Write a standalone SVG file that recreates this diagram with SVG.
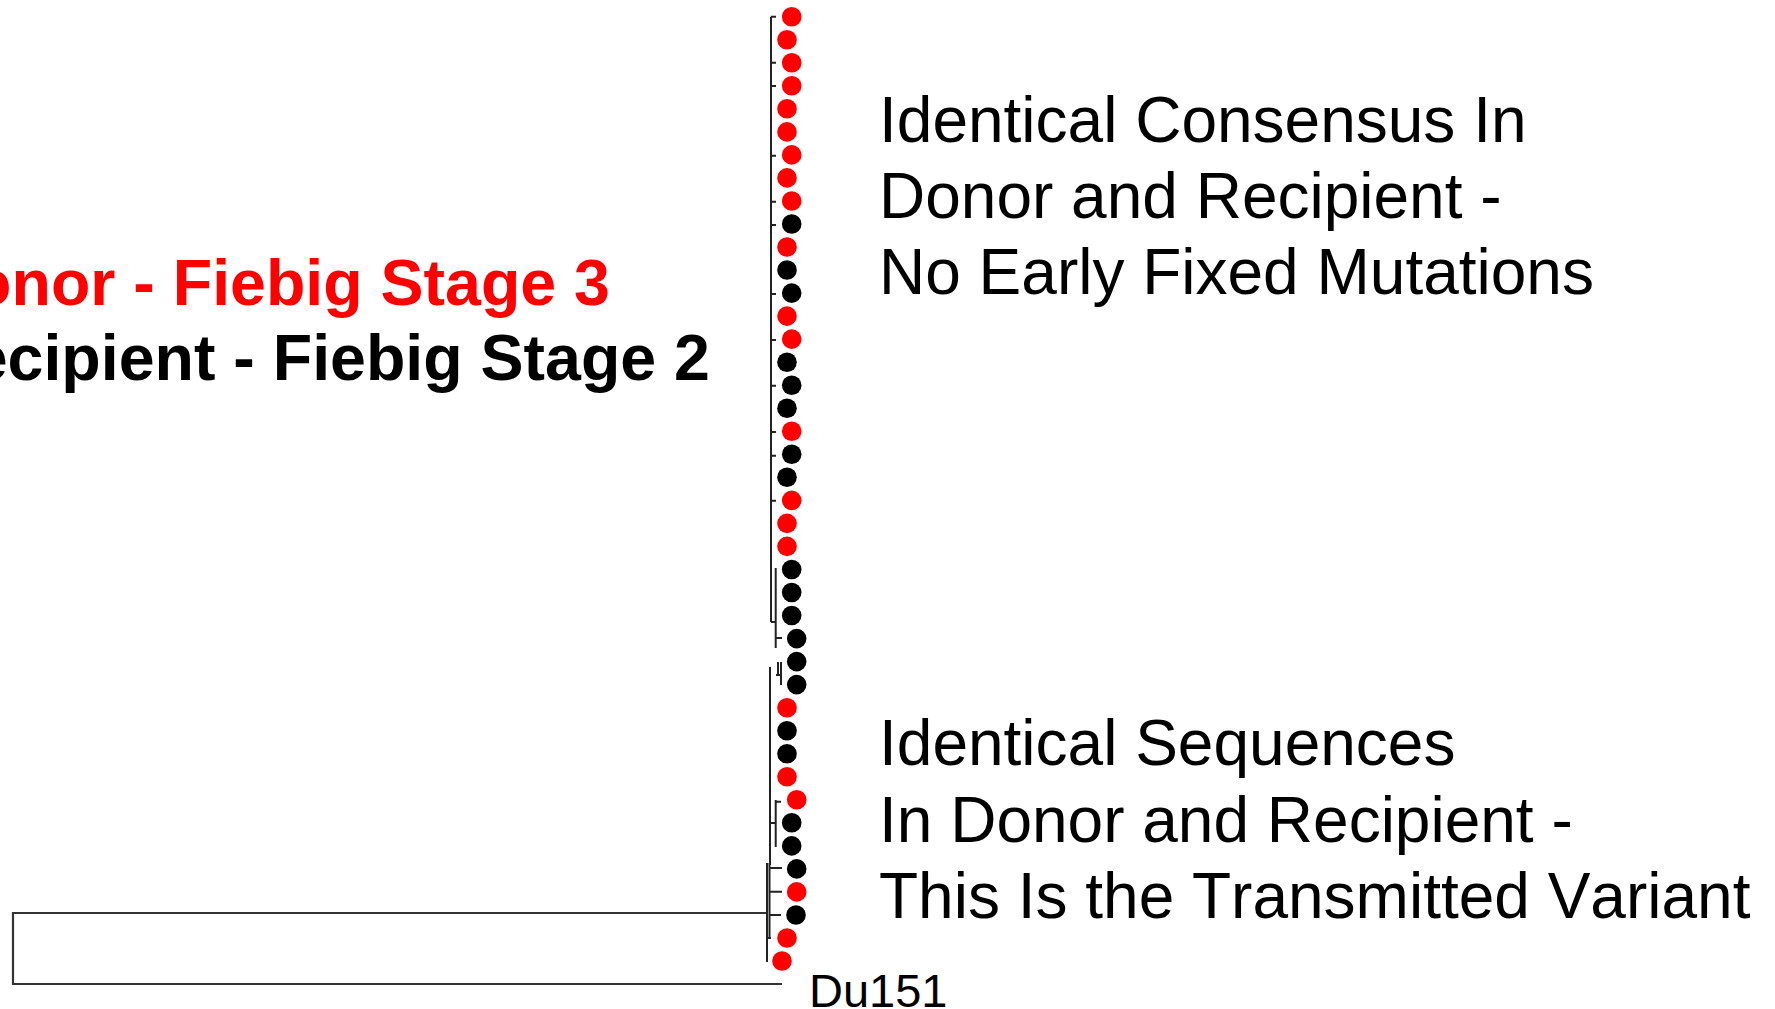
<svg xmlns="http://www.w3.org/2000/svg" width="1775" height="1009" viewBox="0 0 1775 1009">
<style>
text{font-kerning:none}
.br{fill:none;stroke:#222;stroke-width:2;stroke-linecap:butt}
.rt{fill:none;stroke:#333;stroke-width:2.2}
.d{fill:#ff0000}
.r{fill:#000}
.lab{font-family:"Liberation Sans",Arial,sans-serif;font-size:64px;fill:#000}
.leg{font-family:"Liberation Sans",Arial,sans-serif;font-size:64.5px;font-weight:bold}
</style>
<rect width="1775" height="1009" fill="#fff"/>
<g id="connectors">
<path class="rt" d="M767,913 H13 V984 H782"/>
<path class="br" d="M771,16.7 V622 M771,622 H775.7 M775.7,568 V648"/>
<path class="br" d="M771,16.7 H776 M771,62.7 H776 M771,86 H776 M771,155.7 H776 M771,201.7 H776 M771,225 H776 M771,294 H776 M771,340 H776 M771,385.7 H776 M771,432 H776 M771,455.7 H776 M771,500.7 H776"/>
<path class="br" d="M775.7,638 H782 M778,662 V675 M776,675 H781 M781,662 V685"/>
<path class="br" d="M770,667 V865 M770,823 H775.7 M775.7,800 V847 M775.7,801.7 H781"/>
<path class="br" d="M767,863 V962 M769.5,863 V938 M769.5,868 H782 M769.5,891.7 H782 M769.5,915 H781 M767,938 H771"/>
</g>
<g id="leaves">
<circle class="d" cx="791.7" cy="16.7" r="9.8"/>
<circle class="d" cx="787" cy="39.7" r="9.8"/>
<circle class="d" cx="791.7" cy="62.7" r="9.8"/>
<circle class="d" cx="791.7" cy="85.8" r="9.8"/>
<circle class="d" cx="787" cy="108.8" r="9.8"/>
<circle class="d" cx="787" cy="131.9" r="9.8"/>
<circle class="d" cx="791.7" cy="154.9" r="9.8"/>
<circle class="d" cx="787" cy="177.9" r="9.8"/>
<circle class="d" cx="791.7" cy="201" r="9.8"/>
<circle class="r" cx="791.7" cy="224" r="9.8"/>
<circle class="d" cx="787" cy="247" r="9.8"/>
<circle class="r" cx="787" cy="270" r="9.8"/>
<circle class="r" cx="791.7" cy="293.1" r="9.8"/>
<circle class="d" cx="787" cy="316.1" r="9.8"/>
<circle class="d" cx="791.7" cy="339.1" r="9.8"/>
<circle class="r" cx="787" cy="362.2" r="9.8"/>
<circle class="r" cx="791.7" cy="385.2" r="9.8"/>
<circle class="r" cx="787" cy="408.2" r="9.8"/>
<circle class="d" cx="791.7" cy="431.3" r="9.8"/>
<circle class="r" cx="791.7" cy="454.3" r="9.8"/>
<circle class="r" cx="787" cy="477.3" r="9.8"/>
<circle class="d" cx="791.7" cy="500.4" r="9.8"/>
<circle class="d" cx="787" cy="523.4" r="9.8"/>
<circle class="d" cx="787" cy="546.4" r="9.8"/>
<circle class="r" cx="791.7" cy="569.5" r="9.8"/>
<circle class="r" cx="791.7" cy="592.5" r="9.8"/>
<circle class="r" cx="791.7" cy="615.5" r="9.8"/>
<circle class="r" cx="796.7" cy="638.6" r="9.8"/>
<circle class="r" cx="796.7" cy="661.6" r="9.8"/>
<circle class="r" cx="796.7" cy="684.6" r="9.8"/>
<circle class="d" cx="787" cy="707.7" r="9.8"/>
<circle class="r" cx="787" cy="730.7" r="9.8"/>
<circle class="r" cx="787" cy="753.7" r="9.8"/>
<circle class="d" cx="787" cy="776.8" r="9.8"/>
<circle class="d" cx="796.7" cy="799.8" r="9.8"/>
<circle class="r" cx="791.7" cy="822.8" r="9.8"/>
<circle class="r" cx="791.7" cy="845.9" r="9.8"/>
<circle class="r" cx="796.7" cy="868.9" r="9.8"/>
<circle class="d" cx="796.7" cy="891.9" r="9.8"/>
<circle class="r" cx="796" cy="915" r="9.8"/>
<circle class="d" cx="787" cy="938" r="9.8"/>
<circle class="d" cx="782" cy="961" r="9.8"/>
</g>
<g id="root-label">
<text x="809" y="1007" font-family="Liberation Sans, Arial, sans-serif" font-size="47" fill="#000">Du151</text>
</g>
<g id="legend">
<text class="leg" x="610" y="305" text-anchor="end" fill="#ff0000">Donor - Fiebig Stage 3</text>
<text class="leg" x="710" y="380" text-anchor="end" fill="#000">Recipient - Fiebig Stage 2</text>
</g>
<g id="note-consensus">
<text class="lab" x="879" y="141.5">Identical Consensus In</text>
<text class="lab" x="879" y="217.5">Donor and Recipient -</text>
<text class="lab" x="879" y="293.5">No Early Fixed Mutations</text>
</g>
<g id="note-transmitted">
<text class="lab" x="879" y="765">Identical Sequences</text>
<text class="lab" x="879" y="841.5">In Donor and Recipient -</text>
<text class="lab" x="879" y="918">This Is the Transmitted Variant</text>
</g>
</svg>
